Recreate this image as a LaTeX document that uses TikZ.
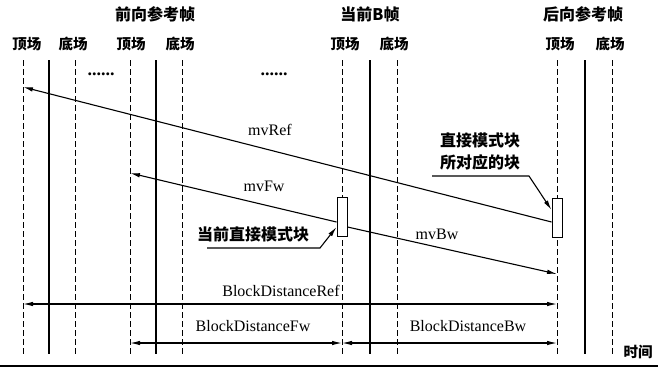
\documentclass[tikz,border=0pt]{standalone}
\usepackage{fontspec}
\setmainfont{Liberation Serif}
\newfontfamily\cjk{Noto Sans CJK SC}
\usetikzlibrary{arrows.meta}

\begin{document}
\begin{tikzpicture}[x=1pt, y=-1pt,
  field/.style = {draw, line width=1pt, dash pattern=on 6pt off 3pt},
  frame/.style = {draw, line width=2.2pt},
  head/.style = {font=\cjk\bfseries\fontsize{16}{16}\selectfont, inner sep=0pt},
  sub/.style = {font=\cjk\bfseries\fontsize{14.5}{15}\selectfont, inner sep=0pt},
  lbl/.style = {font=\fontsize{16}{16}\selectfont, inner sep=0pt},
  note/.style = {font=\cjk\bfseries\fontsize{16}{22}\selectfont, align=center, inner sep=0pt},
  blk/.style = {draw, line width=1pt, fill=white, minimum width=10pt, minimum height=39pt, inner sep=0pt},
  vec/.style = {line width=1.1pt, -{Latex[length=10pt,width=4.5pt]}},
  dist/.style = {line width=1.1pt, {Latex[length=10pt,width=4.5pt]}-{Latex[length=10pt,width=4.5pt]}}]

\useasboundingbox (0,0) rectangle (658,373);

% fields and frames
\foreach \x in {23,75,130,182,342,397,557,612} \draw[field] (\x,60) -- (\x,354);
\foreach \x in {49,156,370,585} \draw[frame] (\x,60) -- (\x,354);

\node[head] (fwHead) at (155,14) {前向参考帧};
\node[head] (curHead) at (370,14) {当前B帧};
\node[head] (bwHead) at (583,14) {后向参考帧};

\foreach \x/\t [count=\i] in {27/顶场, 73/底场, 131/顶场, 180/底场, 345/顶场, 394/底场, 560/顶场, 610/底场}
  \node[sub] (f\i) at (\x,44) {\t};

\node[lbl, font=\bfseries\fontsize{18}{18}\selectfont] (dotsA) at (101,74) {......};
\node[lbl, font=\bfseries\fontsize{18}{18}\selectfont] (dotsB) at (274,74) {......};

% blocks
\node[blk] (curBlk) at (342,217) {};
\node[blk] (bwBlk) at (557,218) {};

\coordinate (refEnd) at (23,87);
\coordinate (fwEnd) at (130,173);
\coordinate (bwEnd) at (557,274);

\draw[vec] ([yshift=-4pt]bwBlk.west) -- (refEnd);
\draw[vec] ([yshift=-5pt]curBlk.west) -- (fwEnd);
\draw[vec] ([yshift=-10pt]curBlk.east) -- (bwEnd);
\node[lbl] (mvRef) at (270,130) {mvRef};
\node[lbl] (mvFw) at (264,186) {mvFw};
\node[lbl] (mvBw) at (437,234) {mvBw};

% callouts
\node[note] (curNote) at (253,234) {当前直接模式块};
\coordinate (curUL) at (207,248);
\coordinate (curKnee) at (320,248);
\draw[vec] (curUL) -- (curKnee) -- ([yshift=-10pt]curBlk.west);

\node[note] (bwNote) at (480,151) {直接模式块\\所对应的块};
\coordinate (bwUL) at (432,176);
\coordinate (bwKnee) at (529,176);
\draw[vec] (bwUL) -- (bwKnee) -- ([yshift=8pt]bwBlk.west);

% distances
\coordinate (refL) at (23,304);
\coordinate (refR) at (557,304);
\coordinate (fwL) at (130,343);
\coordinate (fwR) at (342,343);
\coordinate (bwR) at (557,343);
\draw[dist] (refL) -- (refR);
\draw[dist] (fwL) -- (fwR);
\draw[dist] (fwR) -- (bwR);
\node[lbl] (refDist) at (281,291) {BlockDistanceRef};
\node[lbl] (fwDist) at (253,326) {BlockDistanceFw};
\node[lbl] (bwDist) at (468,326) {BlockDistanceBw};

\node[sub] (time) at (638,352) {时间};
\draw[line width=1.5pt] (0,366) -- (658,366);

\end{tikzpicture}
\end{document}
